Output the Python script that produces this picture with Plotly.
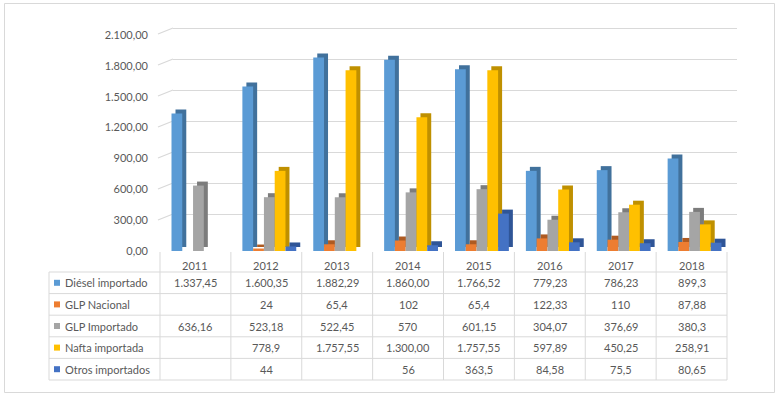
import plotly.graph_objects as go

# ---------------- data ----------------
years = ["2011", "2012", "2013", "2014", "2015", "2016", "2017", "2018"]
series_names = ["Diésel importado", "GLP Nacional", "GLP Importado", "Nafta importada", "Otros importados"]
diesel_importado = [1337.45, 1600.35, 1882.29, 1860.00, 1766.52, 779.23, 786.23, 899.3]
glp_nacional = [None, 24, 65.4, 102, 65.4, 122.33, 110, 87.88]
glp_importado = [636.16, 523.18, 522.45, 570, 601.15, 304.07, 376.69, 380.3]
nafta_importada = [None, 778.9, 1757.55, 1300.00, 1757.55, 597.89, 450.25, 258.91]
otros_importados = [None, 44, None, 56, 363.5, 84.58, 75.5, 80.65]
y_ticks = [0, 300, 600, 900, 1200, 1500, 1800, 2100]

series_values = [diesel_importado, glp_nacional, glp_importado, nafta_importada, otros_importados]
face_colors = ["#5B9BD5", "#ED7D31", "#A5A5A5", "#FFC000", "#4472C4"]
side_colors = ["#41719C", "#AE5A21", "#7C7C7C", "#BF9000", "#2F5597"]

W, H = 780, 397
FONT = "Lato, Carlito, Calibri, sans-serif"
TXT = "#595959"
LINE = "#D9D9D9"


def px(x):
    return x / W


def py(y):
    return 1 - y / H


def fmt(v):
    if v is None:
        return ""
    if v >= 1000:
        s = f"{v:,.2f}"
    else:
        s = f"{v:g}"
    return s.replace(",", "#").replace(".", ",").replace("#", ".")


fig = go.Figure()

# extrusion (side / top) bars, drawn underneath
for name, vals, col in zip(series_names, series_values, side_colors):
    fig.add_trace(go.Bar(x=years, y=vals, name=name, marker=dict(color=col, line=dict(width=0)),
                         xaxis="x2", yaxis="y2", showlegend=False, hoverinfo="skip"))
# front faces
for name, vals, col in zip(series_names, series_values, face_colors):
    fig.add_trace(go.Bar(x=years, y=vals, name=name, marker=dict(color=col, line=dict(width=0)),
                         xaxis="x3", yaxis="y3", showlegend=False))

hidden = dict(showgrid=False, zeroline=False, showticklabels=False, showline=False, ticks="")

# front plane geometry (pixels)
FX0, FX1 = 163, 730
FY0, FY1 = 251, 35   # value 0 / value 2100
D = 4                # extrusion depth
BY0, BY1 = 245, 28   # back wall value 0 / value 2100
back_pad = 20        # value units of padding so the top gridline is drawn
back_top_px = BY1 - back_pad * (BY0 - BY1) / 2100

fig.update_layout(
    width=W, height=H,
    margin=dict(l=0, r=0, t=0, b=0),
    paper_bgcolor="white", plot_bgcolor="rgba(0,0,0,0)",
    barmode="group", bargap=0.24, bargroupgap=0,
    separators=",.",
    showlegend=False,
    font=dict(family=FONT, color=TXT, size=11),
    xaxis=dict(domain=[px(173), px(737)], type="category", categoryarray=years, range=[-0.5, 7.5],
               **hidden),
    yaxis=dict(domain=[py(BY0), py(back_top_px)], range=[0, 2100 + back_pad], tickvals=y_ticks, showgrid=True,
               gridcolor=LINE, gridwidth=1, zeroline=False, showticklabels=False, showline=False,
               automargin=False),
    xaxis2=dict(domain=[px(FX0 + D), px(FX1 + D)], anchor="y2", type="category", categoryarray=years,
                range=[-0.5, 7.5], **hidden),
    yaxis2=dict(domain=[py(FY0 - D), py(FY1 - D)], anchor="x2", range=[0, 2100], **hidden),
    xaxis3=dict(domain=[px(FX0), px(FX1)], anchor="y3", type="category", categoryarray=years,
                range=[-0.5, 7.5], **hidden),
    yaxis3=dict(domain=[py(FY0), py(FY1)], anchor="x3", range=[0, 2100], tickvals=y_ticks,
                tickformat=",.2f", showgrid=False, zeroline=False, showline=False, ticks="",
                ticklabelstandoff=14, tickfont=dict(family=FONT, size=11, color=TXT),
                automargin=False),
)

shapes = []
# outer chart border
shapes.append(dict(type="rect", xref="paper", yref="paper", x0=px(4.5), x1=px(774.5), y0=py(392.5), y1=py(3.5),
                   line=dict(color=LINE, width=1), fillcolor="rgba(0,0,0,0)", layer="below"))
# perspective stubs of the gridlines (left wall)
units_per_px = 2100 / (BY0 - BY1)
for v in y_ticks:
    shapes.append(dict(type="line", xref="paper", yref="y", x0=px(158), x1=px(173), y0=v - 6 * units_per_px, y1=v,
                       line=dict(color=LINE, width=1.2), layer="below"))

# data table
TX0, TC0 = 49, 160
col_w = (727 - 160) / len(years)
TOP_HDR, ROW_TOP, ROW_H = 252, 272, 21.6
n_rows = len(series_names)
table_bottom = ROW_TOP + n_rows * ROW_H
for i in range(n_rows + 1):
    yy = ROW_TOP + i * ROW_H
    shapes.append(dict(type="line", xref="paper", yref="paper", x0=px(TX0), x1=px(727), y0=py(yy), y1=py(yy),
                       line=dict(color=LINE, width=1)))
shapes.append(dict(type="line", xref="paper", yref="paper", x0=px(TX0), x1=px(TX0), y0=py(ROW_TOP),
                   y1=py(table_bottom), line=dict(color=LINE, width=1)))
for j in range(len(years) + 1):
    xx = TC0 + j * col_w
    shapes.append(dict(type="line", xref="paper", yref="paper", x0=px(xx), x1=px(xx), y0=py(TOP_HDR),
                       y1=py(table_bottom), line=dict(color=LINE, width=1)))

annotations = []
for j, yr in enumerate(years):
    annotations.append(dict(x=px(TC0 + (j + 0.5) * col_w), y=py(265), xref="paper", yref="paper", text=yr,
                            showarrow=False, xanchor="center", yanchor="middle",
                            font=dict(family=FONT, size=11, color=TXT)))
for i, (name, vals, col) in enumerate(zip(series_names, series_values, face_colors)):
    yc = ROW_TOP + (i + 0.5) * ROW_H
    shapes.append(dict(type="rect", xref="paper", yref="paper", x0=px(54), x1=px(60), y0=py(yc + 3), y1=py(yc - 3),
                       fillcolor=col, line=dict(width=0)))
    annotations.append(dict(x=px(63), y=py(yc), xref="paper", yref="paper", text=name, showarrow=False,
                            xanchor="left", yanchor="middle", font=dict(family=FONT, size=11, color=TXT)))
    for j, v in enumerate(vals):
        if v is None:
            continue
        annotations.append(dict(x=px(TC0 + (j + 0.5) * col_w), y=py(yc), xref="paper", yref="paper",
                                text=fmt(v), showarrow=False, xanchor="center", yanchor="middle",
                                font=dict(family=FONT, size=11, color=TXT)))

fig.update_layout(shapes=shapes, annotations=annotations)
fig.write_html("out.html", config={"displayModeBar": False},
               post_script="document.body.style.margin='0';document.body.style.overflow='hidden';")
